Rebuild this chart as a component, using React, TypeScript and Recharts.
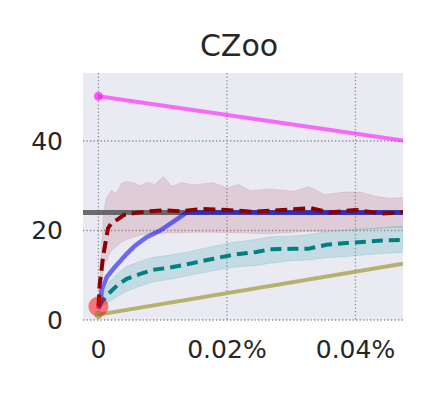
import React from "react";
import {
  ComposedChart,
  XAxis,
  YAxis,
  CartesianGrid,
  Line,
  Area,
  Scatter,
} from "recharts";

// x values are in percent (0.02 -> "0.02%")
const xTicks = [0, 0.02, 0.04];
const yTicks = [0, 20, 40];
const xDomain = [-0.0024, 0.0474];
const yDomain = [0, 55.2];

const magenta = [
  { x: 0, y: 50 },
  { x: 0.0474, y: 40.1 },
];

const grayLevel = [
  { x: -0.0024, y: 24 },
  { x: 0.0474, y: 24 },
];

const olive = [
  { x: 0, y: 1.2 },
  { x: 0.0474, y: 12.6 },
];

const blue = [
  { x: 0, y: 2.5 },
  { x: 0.0003, y: 3.6 },
  { x: 0.0005, y: 6.6 },
  { x: 0.0013, y: 9.6 },
  { x: 0.0023, y: 11.4 },
  { x: 0.0044, y: 14.8 },
  { x: 0.0057, y: 16.6 },
  { x: 0.0075, y: 18.5 },
  { x: 0.0096, y: 20 },
  { x: 0.0119, y: 22.2 },
  { x: 0.0137, y: 24 },
  { x: 0.02, y: 24.1 },
  { x: 0.03, y: 24 },
  { x: 0.0474, y: 24 },
];

const redMean = [
  { x: 0, y: 3 },
  { x: 0.0002, y: 8 },
  { x: 0.0005, y: 11.4 },
  { x: 0.0007, y: 14 },
  { x: 0.0015, y: 20.5 },
  { x: 0.002, y: 21.6 },
  { x: 0.003, y: 22.5 },
  { x: 0.004, y: 23.5 },
  { x: 0.006, y: 24 },
  { x: 0.008, y: 24.3 },
  { x: 0.01, y: 24.5 },
  { x: 0.013, y: 24.3 },
  { x: 0.016, y: 24.8 },
  { x: 0.02, y: 24.6 },
  { x: 0.024, y: 24.2 },
  { x: 0.028, y: 24.5 },
  { x: 0.033, y: 25 },
  { x: 0.036, y: 24 },
  { x: 0.04, y: 24.6 },
  { x: 0.044, y: 23.8 },
  { x: 0.0474, y: 24.1 },
];

const redBand = [
  { x: 0, band: [3, 3] },
  { x: 0.0008, band: [12, 24] },
  { x: 0.0012, band: [13, 27] },
  { x: 0.002, band: [15.5, 29] },
  { x: 0.0028, band: [16.5, 28.2] },
  { x: 0.0036, band: [17.4, 30.6] },
  { x: 0.0044, band: [18, 30.9] },
  { x: 0.0054, band: [18.5, 30.7] },
  { x: 0.0065, band: [19, 30] },
  { x: 0.0075, band: [19.2, 30.8] },
  { x: 0.0088, band: [19.3, 30.3] },
  { x: 0.0101, band: [19.4, 32.1] },
  { x: 0.0114, band: [19.5, 29.9] },
  { x: 0.013, band: [19.5, 30.7] },
  { x: 0.0148, band: [19.6, 30.2] },
  { x: 0.0179, band: [19.6, 30.7] },
  { x: 0.02, band: [19.5, 29.5] },
  { x: 0.0218, band: [19.5, 30.3] },
  { x: 0.0236, band: [19.4, 28.9] },
  { x: 0.0267, band: [19.3, 29.3] },
  { x: 0.0304, band: [19.6, 28.8] },
  { x: 0.0328, band: [19.8, 29.8] },
  { x: 0.0352, band: [19.8, 28] },
  { x: 0.0381, band: [20, 28.6] },
  { x: 0.0407, band: [20.2, 28.6] },
  { x: 0.0433, band: [20.4, 27.6] },
  { x: 0.0453, band: [20.6, 27.2] },
  { x: 0.0474, band: [20.7, 27.4] },
];

const tealMean = [
  { x: 0, y: 3 },
  { x: 0.0005, y: 4 },
  { x: 0.0016, y: 5.9 },
  { x: 0.0029, y: 7.7 },
  { x: 0.0044, y: 9.2 },
  { x: 0.0065, y: 10.3 },
  { x: 0.0085, y: 11.2 },
  { x: 0.0111, y: 11.7 },
  { x: 0.0143, y: 12.6 },
  { x: 0.0179, y: 13.7 },
  { x: 0.021, y: 14.6 },
  { x: 0.0246, y: 15.2 },
  { x: 0.0267, y: 15.8 },
  { x: 0.0303, y: 15.9 },
  { x: 0.0326, y: 15.9 },
  { x: 0.0355, y: 16.8 },
  { x: 0.0386, y: 17.2 },
  { x: 0.0417, y: 17.5 },
  { x: 0.0448, y: 17.8 },
  { x: 0.0474, y: 17.9 },
];

const tealBand = [
  { x: 0, band: [2.5, 3.5] },
  { x: 0.0005, band: [3, 5.2] },
  { x: 0.0016, band: [4, 8.3] },
  { x: 0.0029, band: [5.2, 10.3] },
  { x: 0.0044, band: [6.4, 12] },
  { x: 0.0065, band: [7.6, 13.1] },
  { x: 0.0085, band: [8.5, 14] },
  { x: 0.0111, band: [9.1, 14.5] },
  { x: 0.0143, band: [10, 15.3] },
  { x: 0.0179, band: [11, 16.5] },
  { x: 0.021, band: [11.8, 17.4] },
  { x: 0.0246, band: [12.2, 18] },
  { x: 0.0267, band: [12.7, 18.6] },
  { x: 0.0303, band: [13.3, 18.8] },
  { x: 0.0326, band: [13.4, 19.1] },
  { x: 0.0355, band: [13.9, 19.7] },
  { x: 0.0386, band: [14.2, 20.1] },
  { x: 0.0417, band: [14.6, 20.4] },
  { x: 0.0448, band: [14.9, 20.8] },
  { x: 0.0474, band: [15.1, 21] },
];

const redStart = [{ x: 0, y: 3 }];
const oliveStart = [{ x: 0, y: 1.2 }];
const magentaStart = [{ x: 0, y: 50 }];

const font = "'DejaVu Sans', sans-serif";
const tickStyle = { fontSize: 25, fill: "#262626", fontFamily: font };

const fmtX = (v: number) => (v === 0 ? "0" : `${v.toFixed(2)}%`);

const dot = (r: number, color: string, opacity: number) => (p: any) => (
  <circle cx={p.cx} cy={p.cy} r={r} fill={color} fillOpacity={opacity} />
);

// grid only at the tick values, not at the plot edges
const hLines = ({ offset }: any) =>
  yTicks.map(
    (t) =>
      offset.top +
      offset.height * (1 - (t - yDomain[0]) / (yDomain[1] - yDomain[0]))
  );
const vLines = ({ offset }: any) =>
  xTicks.map(
    (t) =>
      offset.left + (offset.width * (t - xDomain[0])) / (xDomain[1] - xDomain[0])
  );

export default function App() {
  return (
    <div
      style={{
        position: "absolute",
        left: 0,
        top: 0,
        width: 433,
        height: 394,
        background: "#fff",
      }}
    >
      <div
        style={{
          position: "absolute",
          left: 79,
          width: 320,
          top: 31,
          textAlign: "center",
          fontFamily: font,
          fontSize: 30,
          lineHeight: 1,
          color: "#262626",
        }}
      >
        CZoo
      </div>
      <ComposedChart
        width={433}
        height={394}
        margin={{ top: 73, right: 30, bottom: 0, left: 0 }}
      >
        <CartesianGrid
          fill="#eaeaf2"
          fillOpacity={1}
          stroke="#8a8a8a"
          strokeWidth={1.3}
          strokeDasharray="1.3 2.2"
          horizontalCoordinatesGenerator={hLines}
          verticalCoordinatesGenerator={vLines}
        />
        <XAxis
          type="number"
          dataKey="x"
          domain={xDomain}
          allowDataOverflow
          ticks={xTicks}
          tickFormatter={fmtX}
          axisLine={false}
          tickLine={false}
          tickSize={0}
          tickMargin={20}
          height={74}
          tick={tickStyle}
        />
        <YAxis
          type="number"
          domain={yDomain}
          allowDataOverflow
          ticks={yTicks}
          axisLine={false}
          tickLine={false}
          tickSize={0}
          tickMargin={20}
          width={83}
          tick={tickStyle}
        />
        <Area
          data={redBand}
          dataKey="band"
          type="linear"
          stroke="#b05a6a"
          strokeOpacity={0.15}
          fill="#b05a6a"
          fillOpacity={0.2}
          isAnimationActive={false}
        />
        <Area
          data={tealBand}
          dataKey="band"
          type="linear"
          stroke="#40a8b0"
          strokeOpacity={0.2}
          fill="#40a8b0"
          fillOpacity={0.22}
          isAnimationActive={false}
        />
        <Line
          data={grayLevel}
          dataKey="y"
          type="linear"
          stroke="#555559"
          strokeOpacity={0.85}
          strokeWidth={5}
          dot={false}
          isAnimationActive={false}
        />
        <Line
          data={magenta}
          dataKey="y"
          type="linear"
          stroke="#ff00ff"
          strokeOpacity={0.55}
          strokeWidth={4}
          dot={false}
          isAnimationActive={false}
        />
        <Line
          data={olive}
          dataKey="y"
          type="linear"
          stroke="#b5b16f"
          strokeWidth={4}
          dot={false}
          isAnimationActive={false}
        />
        <Scatter
          data={redStart}
          dataKey="y"
          shape={dot(10, "#ff0000", 0.5)}
          isAnimationActive={false}
        />
        <Scatter
          data={oliveStart}
          dataKey="y"
          shape={dot(4, "#8a8a30", 0.6)}
          isAnimationActive={false}
        />
        <Scatter
          data={magentaStart}
          dataKey="y"
          shape={dot(4.5, "#ff00ff", 0.6)}
          isAnimationActive={false}
        />
        <Line
          data={tealMean}
          dataKey="y"
          type="linear"
          stroke="#008080"
          strokeWidth={4}
          strokeDasharray="11 6"
          dot={false}
          isAnimationActive={false}
        />
        <Line
          data={blue}
          dataKey="y"
          type="linear"
          stroke="#0000ff"
          strokeOpacity={0.55}
          strokeWidth={4.5}
          dot={false}
          isAnimationActive={false}
        />
        <Line
          data={redMean}
          dataKey="y"
          type="linear"
          stroke="#8b0000"
          strokeWidth={4}
          strokeDasharray="12 6"
          dot={false}
          isAnimationActive={false}
        />
      </ComposedChart>
    </div>
  );
}
